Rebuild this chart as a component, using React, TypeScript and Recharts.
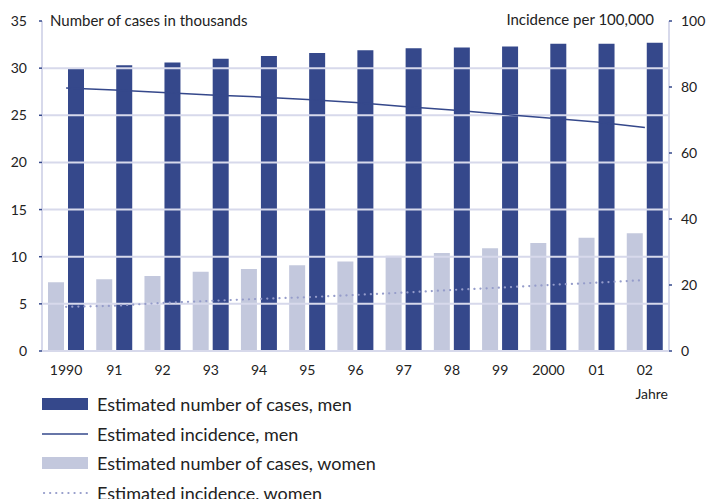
import React from 'react';
import { ComposedChart, Bar, Line, XAxis, YAxis, ReferenceLine } from 'recharts';

// values
const years = ['1990', '91', '92', '93', '94', '95', '96', '97', '98', '99', '2000', '01', '02'];
const casesMen = [30.0, 30.3, 30.6, 31.0, 31.3, 31.6, 31.9, 32.1, 32.2, 32.3, 32.6, 32.6, 32.7];
const casesWomen = [7.3, 7.6, 7.95, 8.4, 8.7, 9.1, 9.5, 10.1, 10.4, 10.9, 11.45, 12.0, 12.5];
const incidenceMen = [79.7, 79.1, 78.3, 77.6, 77.0, 76.2, 75.3, 74.1, 73.0, 71.8, 70.6, 69.4, 67.7];
const incidenceWomen = [13.4, 13.7, 14.6, 15.2, 15.8, 16.3, 17.0, 17.7, 18.5, 19.2, 20.0, 20.7, 21.5];

const leftTicks = [0, 5, 10, 15, 20, 25, 30, 35];
const rightTicks = [0, 20, 40, 60, 80, 100];
const gridValues = [5, 10, 15, 20, 25, 30];

const data = years.map((year, i) => ({
  year,
  casesMen: casesMen[i],
  casesWomen: casesWomen[i],
  incidenceMen: incidenceMen[i],
  incidenceWomen: incidenceWomen[i],
}));

const DARK = '#35488b';
const LIGHT = '#c3c8dd';
const DOTS = '#959cca';
const GRID = '#d7d9eb';
const FONT = 'Lato, "Open Sans", sans-serif';
const TEXT = '#222';

const tickStyle = { fill: TEXT, fontSize: 14, fontFamily: FONT };

const legendRows = [
  { label: 'Estimated number of cases, men', kind: 'bar', color: DARK },
  { label: 'Estimated incidence, men', kind: 'line', color: DARK },
  { label: 'Estimated number of cases, women', kind: 'bar', color: LIGHT },
  { label: 'Estimated incidence, women', kind: 'dots', color: DOTS },
];

const LegendIcon = ({ kind, color }: { kind: string; color: string }) => (
  <svg width={46} height={14} style={{ display: 'block', flex: 'none' }}>
    {kind === 'bar' && <rect x={0} y={1} width={46} height={12} fill={color} />}
    {kind === 'line' && <line x1={0} x2={46} y1={7} y2={7} stroke={color} strokeWidth={1.5} />}
    {kind === 'dots' && (
      <line x1={2} x2={46} y1={7} y2={7} stroke={color} strokeWidth={2.2} strokeDasharray="0.1 6" strokeLinecap="round" />
    )}
  </svg>
);

export default function App() {
  return (
    <div style={{ position: 'absolute', left: 0, top: 0, width: 709, height: 499, background: '#fff', fontFamily: FONT, color: TEXT, overflow: 'hidden' }}>
      <ComposedChart width={709} height={410} data={data} margin={{ top: 21, right: 0, bottom: 0, left: 0 }}>
        <XAxis
          dataKey="year"
          height={59}
          tickLine={false}
          tickSize={0}
          tickMargin={14}
          axisLine={{ stroke: GRID, strokeWidth: 2 }}
          tick={tickStyle}
          interval={0}
        />
        <YAxis
          yAxisId="left"
          width={42}
          domain={[0, 35]}
          ticks={leftTicks}
          tickSize={3}
          tickMargin={12}
          tickLine={{ stroke: DARK, strokeWidth: 1.5 }}
          axisLine={{ stroke: GRID, strokeWidth: 2 }}
          tick={tickStyle}
        />
        <YAxis
          yAxisId="right"
          orientation="right"
          width={40}
          domain={[0, 100]}
          ticks={rightTicks}
          tickSize={3}
          tickMargin={9}
          tickLine={{ stroke: DARK, strokeWidth: 1.5 }}
          axisLine={{ stroke: GRID, strokeWidth: 2 }}
          tick={{ ...tickStyle, textAnchor: 'start' }}
        />
        <Bar yAxisId="left" dataKey="casesWomen" fill={LIGHT} barSize={16} isAnimationActive={false} />
        <Bar yAxisId="left" dataKey="casesMen" fill={DARK} barSize={16} isAnimationActive={false} />
        {gridValues.map((v) => (
          <ReferenceLine key={v} yAxisId="left" y={v} stroke={GRID} strokeWidth={2} />
        ))}
        <Line yAxisId="right" dataKey="incidenceMen" stroke={DARK} strokeWidth={1.5} dot={false} isAnimationActive={false} />
        <Line
          yAxisId="right"
          dataKey="incidenceWomen"
          stroke={DOTS}
          strokeWidth={2.2}
          strokeDasharray="0.1 6"
          strokeLinecap="round"
          dot={false}
          isAnimationActive={false}
        />
      </ComposedChart>

      <div style={{ position: 'absolute', left: 50, top: 10, fontSize: 15, lineHeight: '20px' }}>Number of cases in thousands</div>
      <div style={{ position: 'absolute', right: 55, top: 9, fontSize: 15, lineHeight: '20px' }}>Incidence per 100,000</div>
      <div style={{ position: 'absolute', right: 41, top: 384, fontSize: 14, lineHeight: '20px' }}>Jahre</div>

      <div style={{ position: 'absolute', left: 42, top: 389 }}>
        {legendRows.map((r) => (
          <div key={r.label} style={{ display: 'flex', alignItems: 'center', height: 29.7 }}>
            <LegendIcon kind={r.kind} color={r.color} />
            <span style={{ marginLeft: 9, fontSize: 18, lineHeight: '22px', whiteSpace: 'nowrap' }}>{r.label}</span>
          </div>
        ))}
      </div>
    </div>
  );
}
